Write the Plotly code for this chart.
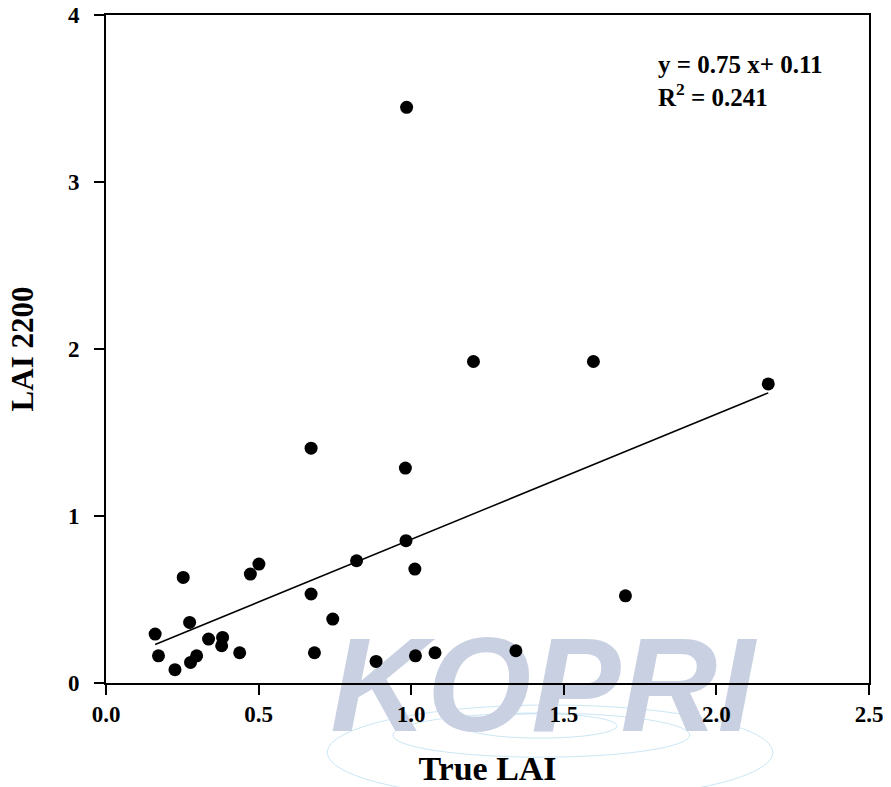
import plotly.graph_objects as go

# Data
true_lai = [0.672, 0.981, 0.983, 0.821, 1.012, 0.253, 0.473, 0.501, 0.672, 0.743,
            0.274, 0.161, 0.336, 0.382, 0.379, 0.438, 0.172, 0.297, 0.277, 0.226,
            0.683, 0.885, 1.014, 1.078, 1.343, 1.702, 2.170, 1.204, 1.597, 0.985]
lai_2200 = [1.406, 1.287, 0.852, 0.732, 0.682, 0.632, 0.652, 0.712, 0.533, 0.383,
            0.363, 0.293, 0.263, 0.273, 0.223, 0.181, 0.163, 0.163, 0.123, 0.080,
            0.181, 0.129, 0.163, 0.181, 0.193, 0.522, 1.791, 1.925, 1.925, 3.447]
slope = 0.75
intercept = 0.11
r2_text = "0.241"

x_ticks = [0.0, 0.5, 1.0, 1.5, 2.0, 2.5]
x_tick_labels = ["0.0", "0.5", "1.0", "1.5", "2.0", "2.5"]
y_ticks = [0, 1, 2, 3, 4]
y_tick_labels = ["0", "1", "2", "3", "4"]

serif = "Liberation Serif, Times New Roman, serif"

fig = go.Figure()

# faint watermark on a hidden full-height axis (subplot x/y is drawn first, i.e. underneath)
fig.add_trace(go.Scatter(
    x=[1.43], y=[0.104], xaxis="x", yaxis="y", mode="text",
    text=["<b><i>KOPRI</i></b>"],
    textfont=dict(family="Liberation Sans, Arial, sans-serif", size=134,
                  color="#c9d0e2"),
    textposition="middle center", cliponaxis=False,
    showlegend=False, hoverinfo="skip"))

# regression line (data subplot x/y2)
x_min, x_max = min(true_lai), max(true_lai)
fig.add_trace(go.Scatter(
    x=[x_min, x_max], y=[slope * x_min + intercept, slope * x_max + intercept],
    xaxis="x", yaxis="y2",
    mode="lines", line=dict(color="black", width=1.5),
    showlegend=False, hoverinfo="skip"))

# points
fig.add_trace(go.Scatter(
    x=true_lai, y=lai_2200, xaxis="x", yaxis="y2", mode="markers",
    marker=dict(color="black", size=13, line=dict(width=0)),
    showlegend=False))

fig.add_annotation(
    xref="paper", yref="paper", x=0.7205, y=0.956, xanchor="left", yanchor="top",
    align="left", showarrow=False,
    text=f"<b>y = {slope} x+ {intercept}<br>R<sup>2</sup> = {r2_text}</b>",
    font=dict(family=serif, size=25, color="black"))

# faint globe outline of the watermark (decoration, below everything)
globe_color = "rgba(140,200,230,0.45)"
for x0, x1, y0, y1 in [(0.290, 0.874, -0.030, 0.0945),
                       (0.376, 0.765, 0.026, 0.084),
                       (0.468, 0.670, 0.051, 0.083)]:
    fig.add_shape(type="circle", xref="paper", yref="paper",
                  x0=x0, x1=x1, y0=y0, y1=y1,
                  line=dict(color=globe_color, width=1), layer="below")

axis_common = dict(
    showgrid=False, zeroline=False, showline=True, linecolor="black", linewidth=1.8,
    mirror=True, ticks="outside", ticklen=10, tickwidth=1.8, tickcolor="black",
    automargin=False,
    tickfont=dict(family=serif, size=23, color="black", weight="bold"))

fig.update_layout(
    xaxis=dict(range=[0, 2.5], tickvals=x_ticks, ticktext=x_tick_labels, anchor="y2",
               title=dict(text="True LAI", standoff=32,
                          font=dict(family=serif, size=34, color="black", weight="bold")),
               **axis_common),
    yaxis=dict(range=[0, 1], domain=[0, 1], visible=False, fixedrange=True,
               anchor="x"),
    yaxis2=dict(range=[0, 4], tickvals=y_ticks, ticktext=y_tick_labels,
                domain=[0.12336, 1], anchor="x", ticklabelstandoff=10,
                title=dict(text="LAI 2200", standoff=25,
                           font=dict(family=serif, size=31, color="black", weight="bold")),
                **axis_common),
    width=891, height=787,
    margin=dict(l=106, r=22, t=15, b=10),
    plot_bgcolor="rgba(0,0,0,0)", paper_bgcolor="white",
    showlegend=False)

fig.write_html("out.html", config={"displayModeBar": False},
               post_script="document.body.style.margin='0';")
